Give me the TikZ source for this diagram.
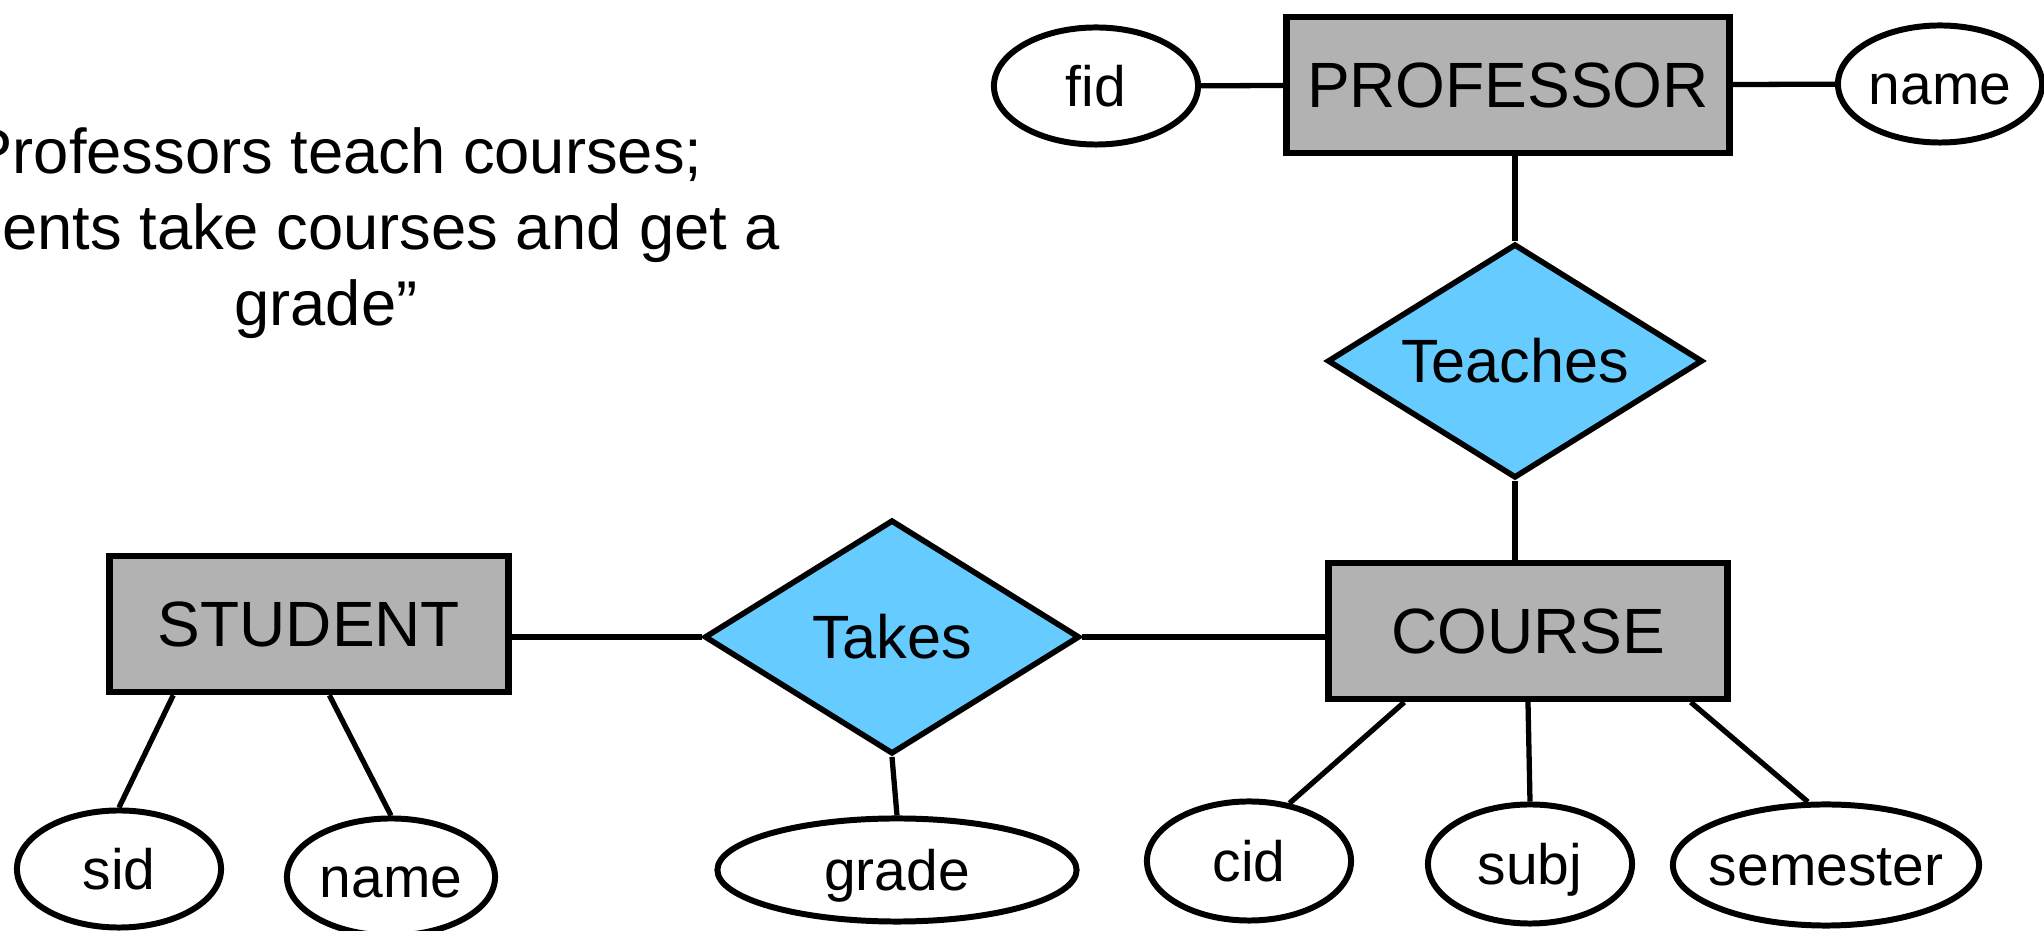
\documentclass[tikz,border=0pt]{standalone}
\usepackage{fontspec}
\setmainfont{Liberation Sans}
\usetikzlibrary{shapes.geometric}

\definecolor{entgray}{RGB}{178,178,178}
\definecolor{relblue}{RGB}{102,204,255}

\begin{document}
\begin{tikzpicture}[
        x=0.01cm, y=-0.01cm,
        entity/.style={draw, line width=1.8pt, fill=entgray, inner sep=0,
            minimum width=3.99cm, minimum height=1.36cm,
            font=\fontsize{18.2}{22}\selectfont},
        relation/.style={diamond, draw, line width=1.6pt, fill=relblue, inner sep=0,
            shape aspect=1.6, minimum width=3.75cm, minimum height=2.34cm,
            font=\fontsize{17.4}{21}\selectfont},
        attr/.style={ellipse, draw, line width=1.7pt, fill=white, inner sep=0,
            minimum width=2.04cm, minimum height=1.17cm,
            text height=13.2pt, text depth=1.6pt,
            font=\fontsize{16.2}{19}\selectfont},
        link/.style={line width=1.5pt}
    ]
        \useasboundingbox (0, 0) rectangle (2044, 931);

        \node[align=center, font=\fontsize{18}{21.6}\selectfont] (claim) at (326, 233)
            {“Professors teach courses;\\Students take courses and get a\\grade”};

        \node[entity, minimum width=4.43cm] (prof) at (1508, 85) {PROFESSOR};
        \node[entity] (course) at (1528, 631) {COURSE};
        \node[entity] (student) at (309, 624) {STUDENT};

        \node[relation] (teaches) at (1515, 361) {Teaches};
        \node[relation] (takes) at (892, 637) {Takes};

        \node[attr] (fid) at (1096, 86) {fid};
        \node[attr] (pname) at (1940, 84) {name};
        \node[attr] (sid) at (119, 869) {sid};
        \node[attr, minimum width=2.08cm] (sname) at (391, 877) {name};
        \node[attr, minimum width=3.59cm, minimum height=1.03cm] (grade) at (897, 870) {grade};
        \node[attr, minimum height=1.19cm] (cid) at (1249, 861) {cid};
        \node[attr, minimum height=1.19cm] (subj) at (1530, 864) {subj};
        \node[attr, inner xsep=-0.09cm, minimum width=3.06cm, minimum height=1.21cm] (sem) at (1826, 865) {semester};

        \draw[link] (fid) -- (prof);
        \draw[link] (prof) -- (pname);
        \draw[link] (teaches.north) -- (teaches.north |- prof.south);
        \draw[link] (teaches.south) -- (teaches.south |- course.north);
        \draw[link] (takes.west) -- (takes.west -| student.east);
        \draw[link] (takes.east) -- (takes.east -| course.west);
        \draw[link] (takes.south) -- (grade.north);

        \draw[link] ([xshift=0.67cm]student.south west) -- (sid.north);
        \draw[link] ([xshift=2.23cm]student.south west) -- (sname.north);

        \draw[link] ([xshift=0.79cm]course.south west) -- (cid.55);
        \draw[link] (course.south) -- (subj.north);
        \draw[link] ([xshift=-0.4cm]course.south east) -- (sem.106);
    \end{tikzpicture}
\end{document}
